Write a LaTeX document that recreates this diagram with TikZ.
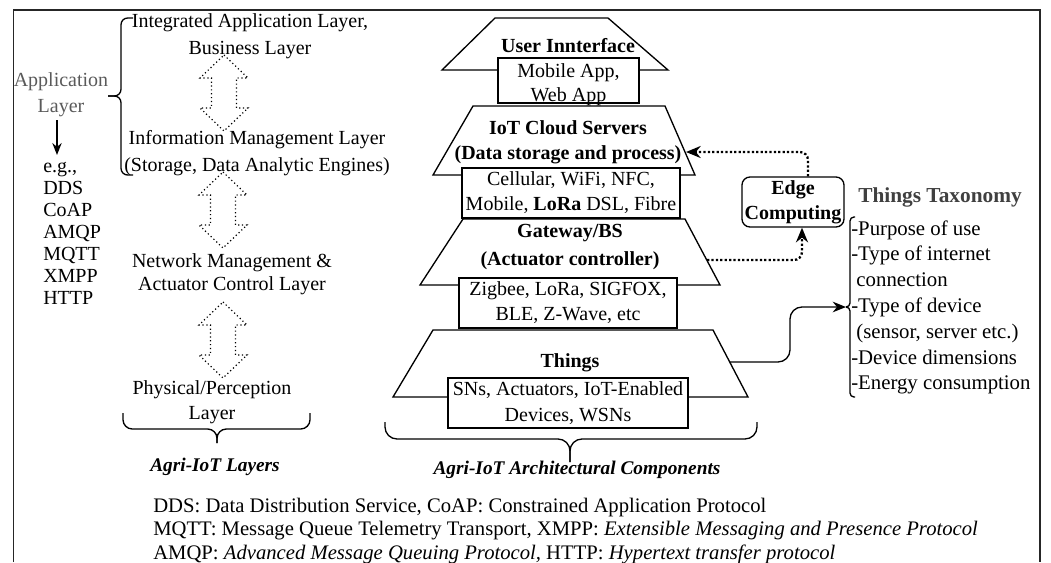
\documentclass[tikz,border=0pt]{standalone}
\usepackage{fontspec}
\setmainfont{Liberation Serif}
\usetikzlibrary{arrows.meta}
\definecolor{grayA}{HTML}{5A5A5A}
\definecolor{grayT}{HTML}{404040}
\begin{document}
\begin{tikzpicture}[x=0.75pt,y=-0.75pt,
  txt/.style={inner sep=0pt, align=center, font=\fontsize{15}{#1}\selectfont},
  txt/.default=20,
  btxt/.style={inner sep=0pt, align=center, font=\fontsize{15}{#1}\selectfont\bfseries},
  btxt/.default=19,
  trap/.style={draw, line width=1pt, fill=white, line join=miter},
  stackbox/.style={draw, line width=1pt, fill=white, inner sep=0pt, align=center,
     font=\fontsize{15}{#1}\selectfont},
  stackbox/.default=19,
  dblarrow/.pic={\draw[line width=0.9pt, dotted] (0,0) -- (24,23) -- (12.5,23) -- (12.5,53) -- (24,53) -- (0,76) -- (-24,53) -- (-12.5,53) -- (-12.5,23) -- (-24,23) -- cycle;},
  dotarr/.style={line width=1.7pt, dash pattern=on 1.7pt off 1.6pt, rounded corners=6pt, -{Stealth[length=11pt,width=9pt]}},
  solarr/.style={line width=1pt, rounded corners=9pt, -{Stealth[length=10pt,width=8pt]}},
  bracestyle/.style={line width=1pt, rounded corners=#1},
  bracestyle/.default=6pt
]
\useasboundingbox (0,0) rectangle (1051,562);
% frame
\draw[line width=1.1pt, draw=black!85] (13.5,562) -- (13.5,10) -- (1040,10) -- (1040,562);

% ---------- left: application layer ----------
\node[txt=19.5, text=grayA] (applayer) at (61,95) {Application\\Layer};
\coordinate (egtop) at (57,155);
\coordinate (arrstart) at (57,120);
\draw[line width=1pt, -{Stealth[length=9pt,width=7pt]}] (arrstart) -- (egtop);
\node[inner sep=0pt, align=left, anchor=west, font=\fontsize{15}{16.5}\selectfont] (eglist) at (43,233)
  {e.g.,\\DDS\\CoAP\\AMQP\\MQTT\\XMPP\\HTTP};

% left brace
\coordinate (lbtip) at (108,96);
\draw[bracestyle=5pt] (133,18) -- (121,18) -- (121,96) -- (lbtip);
\draw[bracestyle=5pt] (133,175) -- (121,175) -- (121,96) -- (lbtip);

% layer texts
\node[txt=20.25] (lay1) at (250,36.5) {Integrated Application Layer,\\Business Layer};
\node[txt=20.25] (lay2) at (257,153.5) {Information Management Layer\\(Storage, Data Analytic Engines)};
\node[txt=17.25] (lay3) at (232,274.5) {Network Management \&\\Actuator Control Layer};
\node[txt=18.75] (lay4) at (212,402.5) {Physical/Perception\\Layer};
\pic at (224,55) {dblarrow};
\pic at (223,172) {dblarrow};
\pic at (223,302) {dblarrow};

% layers brace
\coordinate (lytip) at (217,443);
\draw[bracestyle=7pt] (123,413) -- (123,429) -- (217,429) -- (lytip);
\draw[bracestyle=7pt] (310,413) -- (310,429) -- (217,429) -- (lytip);
\node[inner sep=0pt, font=\fontsize{14.5}{17}\selectfont\bfseries\itshape] (caplay) at (215,467) {Agri-IoT Layers};

% ---------- stack ----------
\draw[trap] (495,18) -- (608,18) -- (668,70) -- (442,70) -- cycle;
\node[btxt] (ui) at (568,46) {User Innterface};
\node[stackbox, minimum width=105.75pt, minimum height=33.75pt] (app) at (568.5,80.5) {};
\node[txt=18] (apptxt) at (568.5,84.5) {Mobile App,\\Web App};

\draw[trap] (473,106) -- (665,106) -- (695,175) -- (433,175) -- cycle;
\node[btxt=18.75] (cloud) at (568,142.5) {IoT Cloud Servers\\(Data storage and process)};
\coordinate (cloudR) at (686,152);
\node[stackbox=18.75, minimum width=163.5pt, minimum height=37.5pt] (cell) at (571,193) {Cellular, WiFi, NFC,\\Mobile, \textbf{LoRa} DSL, Fibre};

\draw[trap] (463,219) -- (685,219) -- (720,285) -- (420,285) -- cycle;
\node[btxt=21] (gw) at (570,247) {Gateway/BS\\(Actuator controller)};
\coordinate (gwR) at (707,260);
\node[stackbox=18.75, minimum width=163.5pt, minimum height=37.5pt] (zig) at (568,303) {Zigbee, LoRa, SIGFOX,\\BLE, Z-Wave, etc};

\draw[trap] (433,330) -- (713,330) -- (748,397) -- (393,397) -- cycle;
\node[btxt] (things) at (570,363) {Things};
\coordinate (thR) at (730,362);
\node[stackbox=19.5, minimum width=180pt, minimum height=37.5pt] (sns) at (568,403) {SNs, Actuators, IoT-Enabled\\Devices, WSNs};

% components brace
\coordinate (cmtip) at (570,462);
\draw[bracestyle=9pt] (385,422) -- (385,439) -- (570,439) -- (cmtip);
\draw[bracestyle=9pt] (757,422) -- (757,439) -- (570,439) -- (cmtip);
\node[inner sep=0pt, font=\fontsize{14.5}{17}\selectfont\bfseries\itshape] (capcomp) at (577,470) {Agri-IoT Architectural Components};

% ---------- edge computing ----------
\node[draw, line width=1pt, rounded corners=6pt, minimum width=76.5pt, minimum height=37.5pt, inner sep=0pt,
  align=center, font=\fontsize{15}{18.75}\selectfont\bfseries] (edge) at (793,202) {Edge\\Computing};
\draw[dotarr] ([xshift=11.25pt]edge.north) |- (cloudR);
\draw[dotarr] (gwR) -| ([xshift=6.75pt]edge.south);

% ---------- taxonomy ----------
\node[inner sep=0pt, font=\fontsize{16}{19}\selectfont\bfseries, text=grayT] (taxtitle) at (940,197) {Things Taxonomy};
\coordinate (taxtip) at (846,307);
\draw[bracestyle=3pt] (855,217) -- (850,217) -- (850,307) -- (taxtip);
\draw[bracestyle=3pt] (855,397) -- (850,397) -- (850,307) -- (taxtip);
\node[inner sep=0pt, align=left, anchor=west, font=\fontsize{15.6}{19.35}\selectfont] (taxlist) at (851,307.5)
  {-Purpose of use\\-Type of internet\\\ connection\\-Type of device\\\ (sensor, server etc.)\\-Device dimensions\\-Energy consumption};
\draw[solarr] (thR) -- (790,362) -- (790,307) -- (taxtip);

% ---------- footnotes ----------
\node[inner sep=0pt, align=left, anchor=west, font=\fontsize{15.5}{17.6}\selectfont] (notes) at (153,531)
  {DDS: Data Distribution Service, CoAP: Constrained Application Protocol\\
   MQTT: Message Queue Telemetry Transport, XMPP: \textit{Extensible Messaging and Presence Protocol}\\
   AMQP: \textit{Advanced Message Queuing Protocol,} HTTP: \textit{Hypertext transfer protocol}};
\end{tikzpicture}
\end{document}
